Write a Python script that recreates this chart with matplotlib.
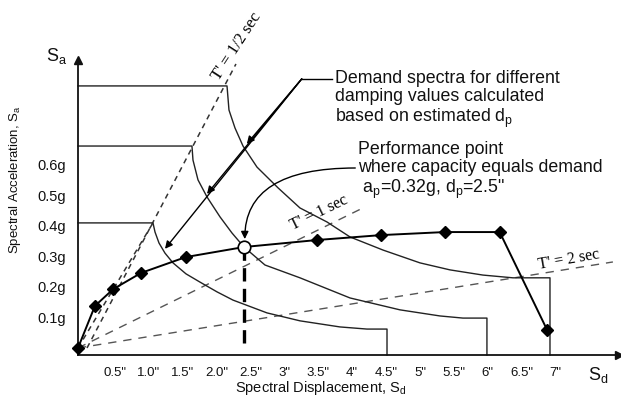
import matplotlib
matplotlib.use('Agg')
import matplotlib.pyplot as plt
from matplotlib import transforms

plt.rcParams['font.family'] = ['Liberation Sans', 'DejaVu Sans']
plt.rcParams['mathtext.fontset'] = 'custom'
plt.rcParams['mathtext.rm'] = 'Liberation Sans'
plt.rcParams['mathtext.it'] = 'Liberation Sans:italic'

# ---------------- data (Sd in inches, Sa in g) ----------------
cap_d = [0.0, 0.25, 0.52, 0.93, 1.59, 2.45, 3.53, 4.47, 5.41, 6.22, 6.92]
cap_a = [0.0, 0.138, 0.193, 0.246, 0.298, 0.331, 0.354, 0.370, 0.380, 0.380, 0.059]
perf_d = 2.45
perf_a = 0.331

outer_d = [0.0, 2.198, 2.227, 2.316, 2.434, 2.640, 2.950, 3.274, 3.673, 4.012,
           4.499, 5.044, 5.487, 5.973, 6.416, 6.962]
outer_a = [0.859, 0.859, 0.780, 0.721, 0.662, 0.593, 0.525, 0.459, 0.413, 0.364,
           0.321, 0.279, 0.256, 0.239, 0.230, 0.230]

middle_d = [0.0, 1.681, 1.696, 1.770, 1.903, 2.094, 2.271, 2.448, 2.758, 3.274,
            4.012, 4.749, 5.339, 5.678, 6.032]
middle_a = [0.662, 0.662, 0.616, 0.551, 0.495, 0.430, 0.377, 0.331, 0.272, 0.230,
            0.164, 0.125, 0.105, 0.098, 0.098]

inner_d = [0.0, 1.106, 1.136, 1.195, 1.283, 1.401, 1.593, 1.799, 2.050, 2.286,
           2.788, 3.274, 3.864, 4.263, 4.558]
inner_a = [0.410, 0.410, 0.380, 0.344, 0.311, 0.279, 0.243, 0.216, 0.184, 0.157,
           0.115, 0.089, 0.069, 0.062, 0.062]

# radial period lines
t_half_d = [0.133, 2.33]
t_half_a = [0.0, 0.931]
t_corner_d = [0.0, 1.106]
t_corner_a = [0.0, 0.410]
t_one_d = [0.0, 4.23]
t_one_a = [0.0, 0.462]
t_two_d = [0.0, 7.89]
t_two_a = [0.0, 0.282]

xtick_vals = [0.5, 1.0, 1.5, 2.0, 2.5, 3.0, 3.5, 4.0, 4.5, 5.0, 5.5, 6.0, 6.5, 7.0]
xtick_labels = ['0.5"', '1.0"', '1.5"', '2.0"', '2.5"', '3"', '3.5"', '4"', '4.5"',
                '5"', '5.5"', '6"', '6.5"', '7"']
ytick_vals = [0.1, 0.2, 0.3, 0.4, 0.5, 0.6]
ytick_labels = ['0.1g', '0.2g', '0.3g', '0.4g', '0.5g', '0.6g']

XMIN, XMAX = 0.0, 7.98
YMIN, YMAX = -0.023, 0.944

W, H = 621, 398
fig = plt.figure(figsize=(W / 100, H / 100), dpi=100)
ax = fig.add_axes([78 / W, (H - 355) / H, 541 / W, 295 / H])
ax.set_xlim(XMIN, XMAX)
ax.set_ylim(YMIN, YMAX)

def fpx(x, y):
    return x / W, 1 - y / H

# spines / arrows
for s in ['top', 'right']:
    ax.spines[s].set_visible(False)
for s in ['left', 'bottom']:
    ax.spines[s].set_linewidth(1.3)
    ax.spines[s].set_color('#111111')
ax.plot(1, 0, '>', color='#111111', ms=6, transform=ax.transAxes, clip_on=False)
ax.plot(0, 1, '^', color='#111111', ms=6, transform=ax.transAxes, clip_on=False)

ax.set_xticks(xtick_vals)
ax.set_xticklabels(xtick_labels, fontsize=9.5, color='#111111')
ax.set_yticks(ytick_vals)
ax.set_yticklabels(ytick_labels, fontsize=10.5, color='#111111')
ax.tick_params(axis='x', length=0, pad=8.5)
ax.tick_params(axis='y', length=0, pad=8.5)
off = transforms.ScaledTranslation(3 / 100, 0, fig.dpi_scale_trans)
for lab in ax.get_xticklabels():
    lab.set_transform(lab.get_transform() + off)

# period lines (dashed)
ax.plot(t_half_d, t_half_a, color='#333333', lw=1.1, ls=(0, (3.5, 3)), clip_on=False)
ax.plot(t_corner_d, t_corner_a, color='#333333', lw=1.1, ls=(0, (3.5, 3)))
ax.plot(t_one_d, t_one_a, color='#555555', lw=1.0, ls=(0, (6, 5)))
ax.plot(t_two_d, t_two_a, color='#555555', lw=1.0, ls=(0, (6, 5)))

# demand spectra
for dd, aa in [(outer_d, outer_a), (middle_d, middle_a), (inner_d, inner_a)]:
    ax.plot(dd + [dd[-1]], aa + [YMIN], color='#222222', lw=1.0, clip_on=False)

# capacity curve
ax.plot(cap_d, cap_a, color='black', lw=1.4, zorder=4)
mk_d = [d for d in cap_d if d != perf_d]
mk_a = [a for d, a in zip(cap_d, cap_a) if d != perf_d]
ax.plot(mk_d, mk_a, 'D', color='black', ms=6.5, zorder=5, clip_on=False)

# performance point
ax.plot([perf_d, perf_d], [perf_a, 0.003], color='black', lw=2.4, ls=(0, (4, 2.2)), zorder=3)
ax.plot([perf_d], [perf_a], 'o', ms=9, mfc='white', mec='black', mew=1.2, zorder=6)

# period labels
serif = ['Liberation Serif', 'DejaVu Serif']
ax.text(*fpx(237, 46), "T' = 1/2 sec", transform=fig.transFigure, rotation=57,
        ha='center', va='center', fontsize=12, family=serif)
ax.text(*fpx(319, 213), "T' = 1 sec", transform=fig.transFigure, rotation=26,
        ha='center', va='center', fontsize=11.5, family=serif)
ax.text(*fpx(569, 260), "T' = 2 sec", transform=fig.transFigure, rotation=10,
        ha='center', va='center', fontsize=11.5, family=serif)

# annotation 1
ax.text(3.79, 0.910, 'Demand spectra for different\ndamping values calculated\nbased on estimated d$_\\mathrm{p}$',
        ha='left', va='top', fontsize=12.8, linespacing=1.08, color='#111111')
ax.plot([3.75, 3.30], [0.882, 0.882], color='black', lw=1.0, clip_on=False)
for tip in [(2.49, 0.669), (1.903, 0.505), (1.283, 0.325)]:
    ax.annotate('', xy=tip, xytext=(3.30, 0.882),
                arrowprops=dict(arrowstyle='-|>', color='black', lw=1.0,
                                mutation_scale=11, shrinkA=0, shrinkB=0))

# annotation 2
ax.text(4.13, 0.677, 'Performance point\nwhere capacity equals demand\n a$_\\mathrm{p}$=0.32g, d$_\\mathrm{p}$=2.5"',
        ha='left', va='top', fontsize=12.8, linespacing=1.08, color='#111111')
ax.annotate('', xy=(2.46, 0.357), xytext=(4.09, 0.590),
            arrowprops=dict(arrowstyle='-|>', color='black', lw=1.0, mutation_scale=11,
                            shrinkA=0, shrinkB=0,
                            connectionstyle='angle3,angleA=0,angleB=90'))

# axis labels
fig.text(*fpx(321, 388), 'Spectral Displacement, S$_\\mathrm{d}$', ha='center', va='center',
         fontsize=10.5, color='#111111')
fig.text(*fpx(15, 180), 'Spectral Acceleration, S$_\\mathrm{a}$', ha='center', va='center',
         fontsize=9.5, rotation=90, color='#111111')
fig.text(*fpx(57, 56), 'S$_\\mathrm{a}$', ha='center', va='center', fontsize=13, color='#111111')
fig.text(*fpx(598, 375), 'S$_\\mathrm{d}$', ha='center', va='center', fontsize=13, color='#111111')

fig.savefig('out.png', dpi=100)
